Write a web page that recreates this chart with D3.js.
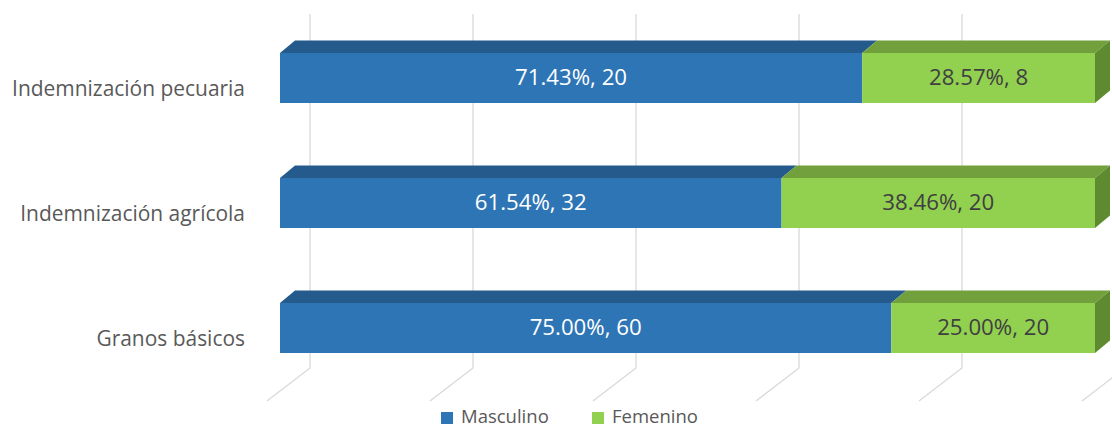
<!DOCTYPE html>
<html>
<head>
<meta charset="utf-8">
<script src="https://cdnjs.cloudflare.com/ajax/libs/d3/7.8.5/d3.min.js"></script>
<style>
  html, body { margin: 0; padding: 0; background: #fff; }
  svg { display: block; }
  text { font-family: "Open Sans", Lato, sans-serif; }
</style>
</head>
<body>
<svg id="chart" width="1112" height="427"></svg>
<script>
// ---- data ----
const categories = ["Indemnización pecuaria", "Indemnización agrícola", "Granos básicos"];
const seriesNames = ["Masculino", "Femenino"];
const masculinoPct = [71.43, 61.54, 75.00];
const masculinoCount = [20, 32, 60];
const femeninoPct = [28.57, 38.46, 25.00];
const femeninoCount = [8, 20, 20];
const tickValues = [0, 20, 40, 60, 80, 100];

// ---- styles ----
const colors = {
  Masculino: { front: "#2E75B6", top: "#245A8C", side: "#1F4E79", label: "#FFFFFF" },
  Femenino:  { front: "#92D050", top: "#71A03C", side: "#5F8B30", label: "#404040" }
};

const svg = d3.select("#chart");

// fit a font size so that a sample string spans a target width
function fitSize(sample, target) {
  const t = svg.append("text").attr("font-size", 20).text(sample);
  const w = t.node().getComputedTextLength();
  t.remove();
  return 20 * target / w;
}
const catSize = fitSize("Indemnización pecuaria", 233);
const lblSize = fitSize("71.43%, 20", 112);
const legSize = Math.min(fitSize("Masculino", 100), 18.5);

const x = d3.scaleLinear().domain([0, 100]).range([280, 1095]);
const y = d3.scaleBand().domain(categories).range([-22, 428]).paddingInner(0.6).paddingOuter(0.6);

const depth = { dx: 15, dy: -12.5 };
const wall = { dx: 30, top: 14, bottom: 368 };
const floorFront = { dx: -13, y: 401 };

// gridlines (back wall + floor)
const grid = svg.append("g");
tickValues.forEach(t => {
  const bx = x(t) + wall.dx;
  grid.append("path")
    .attr("d", `M${bx},${wall.top} L${bx},${wall.bottom} L${x(t) + floorFront.dx},${floorFront.y}`)
    .attr("fill", "none")
    .attr("stroke", "#D9D9D9")
    .attr("stroke-width", 1.3);
});

const rows = categories.map((c, i) => ({
  cat: c,
  segs: [
    { name: "Masculino", x0: 0, x1: masculinoPct[i], pct: masculinoPct[i], n: masculinoCount[i] },
    { name: "Femenino", x0: masculinoPct[i], x1: masculinoPct[i] + femeninoPct[i], pct: femeninoPct[i], n: femeninoCount[i] }
  ]
}));

const bars = svg.append("g");
rows.forEach(r => {
  const y0 = y(r.cat), h = y.bandwidth();
  r.segs.forEach((s, k) => {
    const a = x(s.x0), b = x(s.x1);
    const c = colors[s.name];
    bars.append("path")
      .attr("d", `M${a},${y0} L${b},${y0} L${b + depth.dx},${y0 + depth.dy} L${a + depth.dx},${y0 + depth.dy} Z`)
      .attr("fill", c.top);
    bars.append("rect")
      .attr("x", a).attr("y", y0).attr("width", b - a).attr("height", h)
      .attr("fill", c.front);
    if (k === r.segs.length - 1) {
      bars.append("path")
        .attr("d", `M${b},${y0} L${b + depth.dx},${y0 + depth.dy} L${b + depth.dx},${y0 + h + depth.dy} L${b},${y0 + h} Z`)
        .attr("fill", c.side);
    }
    bars.append("text")
      .attr("x", (a + b) / 2)
      .attr("y", y0 + h / 2 + 1)
      .attr("text-anchor", "middle")
      .attr("dominant-baseline", "middle")
      .attr("font-size", lblSize)
      .attr("fill", c.label)
      .text(`${s.pct.toFixed(2)}%, ${s.n}`);
  });
});

svg.append("g").selectAll("text")
  .data(categories)
  .join("text")
  .attr("x", 245)
  .attr("y", d => y(d) + y.bandwidth() / 2 + 12)
  .attr("text-anchor", "end")
  .attr("dominant-baseline", "middle")
  .attr("font-size", catSize)
  .attr("fill", "#595959")
  .text(d => d);

const legend = svg.append("g");
const legendItems = [
  { name: seriesNames[0], x: 441 },
  { name: seriesNames[1], x: 592 }
];
legendItems.forEach(it => {
  legend.append("rect")
    .attr("x", it.x).attr("y", 412).attr("width", 12).attr("height", 12)
    .attr("fill", colors[it.name].front);
  legend.append("text")
    .attr("x", it.x + 20).attr("y", 423)
    .attr("font-size", legSize)
    .attr("fill", "#595959")
    .text(it.name);
});
</script>
</body>
</html>
